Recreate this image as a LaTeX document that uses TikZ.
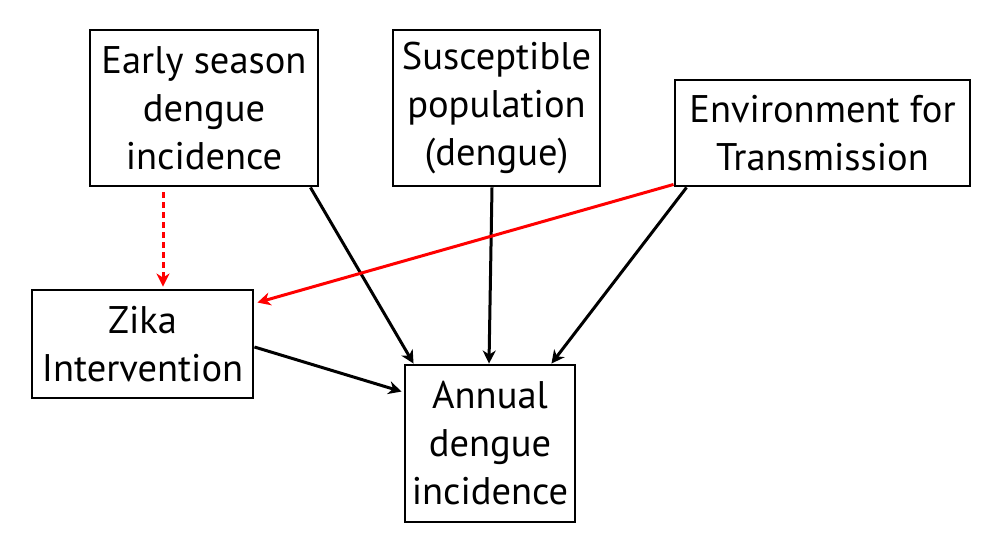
\documentclass[tikz,border=0pt]{standalone}
\usepackage{fontspec}
\setmainfont{PT Sans}
\usetikzlibrary{arrows.meta,calc}
\begin{document}
\begin{tikzpicture}[x=1pt,y=-1pt,
  box/.style={draw=black,line width=2.9pt,rectangle,inner sep=0pt,align=center,
    font=\fontsize{38.5}{48}\selectfont},
  arr/.style={line width=3pt,-{Stealth[length=13pt,width=13pt,inset=4pt]}},
  redarr/.style={arr,draw=red,color=red},
  dasharr/.style={redarr,dash pattern=on 6pt off 4pt}]
\useasboundingbox[fill=white] (0,0) rectangle (991,549);
\node[box,minimum width=228pt,minimum height=156pt] (early) at (204,108) {Early season\\dengue\\incidence};
\node[box,minimum width=207pt,minimum height=156pt] (susc) at (496.5,108) {Susceptible\\population\\(dengue)};
\node[box,minimum width=295pt,minimum height=106pt] (env) at (822.5,133) {Environment for\\Transmission};
\node[box,minimum width=221pt,minimum height=108pt] (zika) at (142.5,344) {Zika\\Intervention};
\node[box,minimum width=170pt,minimum height=157pt] (annual) at (490,443.5) {Annual\\dengue\\incidence};
\draw[arr] ($(early.south east)+(-9,0)$) -- ($(annual.north west)+(10,0)$);
\draw[arr] ($(susc.south)+(-4.5,0)$) -- ($(annual.north)+(-1,0)$);
\draw[arr] ($(env.south west)+(13,0)$) -- ($(annual.north east)+(-25,0)$);
\draw[arr] ($(zika.east)+(0,3)$) -- ($(annual.north west)+(-2,28)$);
\draw[redarr] ($(env.south west)+(0,-3)$) -- ($(zika.north east)+(3,14)$);
\draw[dasharr] ($(early.south)+(-41,5)$) -- ($(zika.north)+(20.5,-2)$);
\end{tikzpicture}
\end{document}
